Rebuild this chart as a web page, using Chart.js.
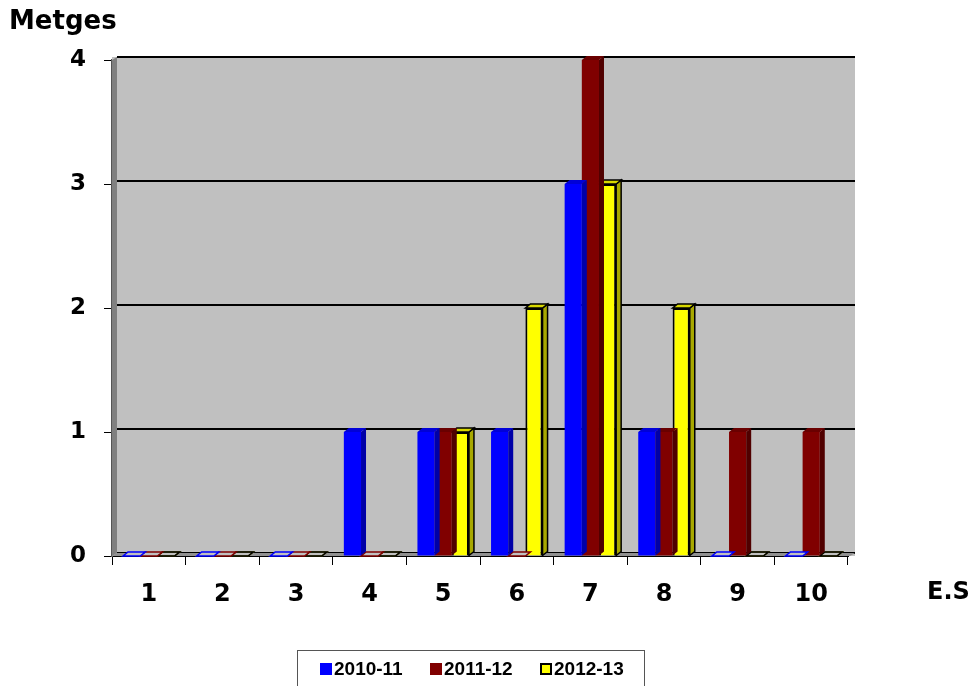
<!DOCTYPE html>
<html>
<head>
<meta charset="utf-8">
<script src="https://cdn.jsdelivr.net/npm/chart.js@4.4.1/dist/chart.umd.min.js"></script>
<style>
  body { margin: 0; background: #fff; }
  #wrap { position: relative; width: 977px; height: 686px; }
  #chart { position: absolute; left: 0; top: 0; }
  .lbl { position: absolute; font-family: "DejaVu Sans", Verdana, sans-serif; font-weight: bold; color: #000; }
  #legend {
    position: absolute; left: 297px; top: 650px; width: 348px; height: 40px;
    border: 1px solid #555; box-sizing: border-box;
    font-family: "Liberation Sans", Arial, sans-serif; font-weight: bold; font-size: 19px;
  }
  #legend span.item { position: absolute; top: 7px; }
  #legend i { display: inline-block; width: 12px; height: 12px; margin-right: 2px; vertical-align: 0px; box-sizing: border-box; }
</style>
</head>
<body>
<div id="wrap">
  <canvas id="chart" width="977" height="686"></canvas>
  <div class="lbl" style="left:9px; top:5px; font-size:26px;">Metges</div>
  <div class="lbl" style="left:927px; top:577px; font-size:24px;">E.S</div>
  <div id="legend"></div>
</div>
<script>
const categories = ["1", "2", "3", "4", "5", "6", "7", "8", "9", "10"];
const seriesNames = ["2010-11", "2011-12", "2012-13"];
const values2010 = [0, 0, 0, 1, 1, 1, 3, 1, 0, 0];
const values2011 = [0, 0, 0, 0, 1, 0, 4, 1, 1, 1];
const values2012 = [0, 0, 0, 0, 1, 2, 3, 2, 0, 0];
const yTicks = [0, 1, 2, 3, 4];

const fronts = ["#0000FF", "#800000", "#FFFF00"];
const sides = ["#0000A8", "#500000", "#A8A800"];
const tops = ["#0000D8", "#6A0000", "#D8D800"];
const outlines = [null, null, "#000000"];
const DEPTH = 5;

const legend = document.getElementById("legend");
const legendX = [22, 132, 242];
seriesNames.forEach((name, i) => {
  const s = document.createElement("span");
  s.className = "item";
  s.style.left = legendX[i] + "px";
  const border = outlines[i] ? "border:2px solid #000;" : "";
  s.innerHTML = `<i style="background:${fronts[i]};${border}"></i>${name}`;
  legend.appendChild(s);
});

// grey back wall, side wall and offset gridlines
const wallPlugin = {
  id: "wall",
  beforeDatasetsDraw(chart) {
    const { ctx, chartArea: a, scales } = chart;
    ctx.save();
    ctx.fillStyle = "#C0C0C0";
    ctx.fillRect(a.left, a.top - 3, a.right - a.left + 7, a.bottom - a.top + 3);
    ctx.fillStyle = "#808080";
    ctx.beginPath();
    ctx.moveTo(a.left, a.top);
    ctx.lineTo(a.left + DEPTH, a.top - 3);
    ctx.lineTo(a.left + DEPTH, a.bottom - 3);
    ctx.lineTo(a.left, a.bottom);
    ctx.closePath();
    ctx.fill();
    ctx.strokeStyle = "#000";
    ctx.lineWidth = 2;
    yTicks.forEach(v => {
      const y = Math.round(scales.y.getPixelForValue(v)) - 3;
      ctx.beginPath();
      ctx.moveTo(a.left + DEPTH, y);
      ctx.lineTo(a.right + 7, y);
      ctx.stroke();
    });
    // floor edge
    ctx.fillStyle = "#909090";
    ctx.beginPath();
    ctx.moveTo(a.left, a.bottom);
    ctx.lineTo(a.left + DEPTH, a.bottom - 3);
    ctx.lineTo(a.right + 7, a.bottom - 3);
    ctx.lineTo(a.right + 2, a.bottom);
    ctx.closePath();
    ctx.fill();
    ctx.restore();
  },
  afterDatasetDraw(chart, args) {
    const { ctx } = chart;
    const i = args.index;
    const meta = args.meta;
    ctx.save();
    meta.data.forEach(bar => {
      const { x, y, base, width } = bar.getProps(["x", "y", "base", "width"], true);
      const l = x - width / 2, r = x + width / 2;
      const d = DEPTH, dy = 4;
      if (Math.abs(base - y) < 0.5) {
        ctx.strokeStyle = fronts[i] === "#FFFF00" ? "#777700" : fronts[i];
        ctx.fillStyle = "#C0C0C0";
        ctx.lineWidth = 1.5;
        ctx.beginPath();
        ctx.moveTo(l, base);
        ctx.lineTo(l + d, base - dy);
        ctx.lineTo(r + d, base - dy);
        ctx.lineTo(r, base);
        ctx.closePath();
        ctx.fill();
        ctx.stroke();
        if (outlines[i]) { ctx.strokeStyle = "#000"; ctx.stroke(); }
        return;
      }
      ctx.fillStyle = sides[i];
      ctx.beginPath();
      ctx.moveTo(r, y);
      ctx.lineTo(r + d, y - dy);
      ctx.lineTo(r + d, base - dy);
      ctx.lineTo(r, base);
      ctx.closePath();
      ctx.fill();
      if (outlines[i]) { ctx.strokeStyle = outlines[i]; ctx.lineWidth = 1.5; ctx.stroke(); }
      ctx.fillStyle = tops[i];
      ctx.beginPath();
      ctx.moveTo(l, y);
      ctx.lineTo(l + d, y - dy);
      ctx.lineTo(r + d, y - dy);
      ctx.lineTo(r, y);
      ctx.closePath();
      ctx.fill();
      if (outlines[i]) { ctx.stroke(); }
    });
    ctx.restore();
  }
};

const allValues = [values2010, values2011, values2012];
new Chart(document.getElementById("chart"), {
  type: "bar",
  data: {
    labels: categories,
    datasets: seriesNames.map((name, i) => ({
      label: name,
      data: allValues[i],
      backgroundColor: fronts[i],
      borderColor: outlines[i] || fronts[i],
      borderWidth: outlines[i] ? 2 : 0,
      borderSkipped: "bottom",
      categoryPercentage: 0.7,
      barPercentage: 1.0
    }))
  },
  options: {
    responsive: false,
    animation: false,
    layout: { padding: { top: 60, right: 129, left: 0, bottom: 0 } },
    plugins: { legend: { display: false }, tooltip: { enabled: false } },
    scales: {
      x: {
        afterFit: s => { s.height = 130; },
        grid: { drawOnChartArea: false, drawTicks: true, tickLength: 9, color: "#000", offset: true },
        border: { color: "#000", width: 2 },
        ticks: { padding: 15, color: "#000", font: { family: "DejaVu Sans", weight: "bold", size: 24 } }
      },
      y: {
        min: 0, max: 4,
        afterFit: s => { s.width = 112; },
        grid: { drawOnChartArea: false, drawTicks: true, tickLength: 8, color: "#000" },
        border: { color: "#555", width: 2 },
        ticks: { stepSize: 1, padding: 18, color: "#000", font: { family: "DejaVu Sans", weight: "bold", size: 23 } }
      }
    }
  },
  plugins: [wallPlugin]
});
</script>
</body>
</html>
